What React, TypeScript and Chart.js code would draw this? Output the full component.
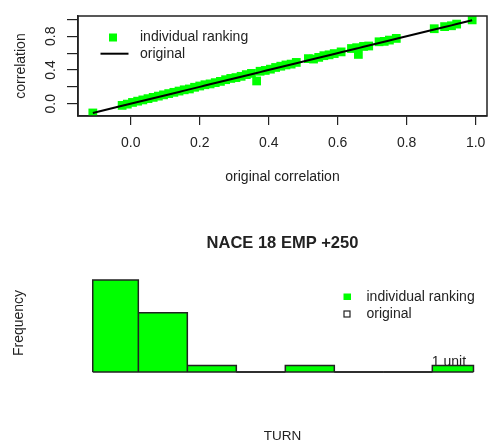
import React, { useEffect, useRef } from "react";
import { Chart, registerables } from "chart.js";

Chart.register(...registerables);

const FONT = '"Liberation Sans", Arial, Helvetica, sans-serif';
const GREEN = "#00ff00";
const INK = "#222222";

// ---- top chart data ----
const originalCorr = [
  -0.11, -0.025, -0.01, 0.005, 0.02, 0.035, 0.05, 0.065, 0.08, 0.095, 0.11, 0.125, 0.14,
  0.155, 0.17, 0.185, 0.2, 0.215, 0.23, 0.245, 0.26, 0.275, 0.29, 0.305, 0.32, 0.335, 0.35,
  0.365, 0.375, 0.39, 0.405, 0.42, 0.435, 0.45, 0.465, 0.48, 0.515, 0.53, 0.545, 0.56, 0.575,
  0.59, 0.61, 0.64, 0.655, 0.66, 0.675, 0.69, 0.72, 0.735, 0.75, 0.77, 0.88, 0.91, 0.93, 0.945,
  0.99,
];
const rankingCorr = [
  -0.11, -0.02, -0.005, 0.015, 0.03, 0.045, 0.06, 0.075, 0.09, 0.105, 0.12, 0.135, 0.15,
  0.165, 0.175, 0.195, 0.21, 0.225, 0.235, 0.25, 0.265, 0.285, 0.3, 0.31, 0.325, 0.345, 0.36,
  0.27, 0.385, 0.395, 0.41, 0.43, 0.445, 0.46, 0.47, 0.49, 0.535, 0.53, 0.55, 0.57, 0.58,
  0.595, 0.615, 0.655, 0.665, 0.585, 0.68, 0.685, 0.735, 0.74, 0.755, 0.775, 0.89, 0.915, 0.925,
  0.945, 0.995,
];
const xTicks = [0, 0.2, 0.4, 0.6, 0.8, 1.0];
const xTickLabels = ["0.0", "0.2", "0.4", "0.6", "0.8", "1.0"];
const yTicks = [0, 0.2, 0.4, 0.6, 0.8, 1.0];
const yTickLabels = ["0.0", "", "0.4", "", "0.8", ""];
const topXTitle = "original correlation";
const topYTitle = "correlation";
const topLegend = ["individual ranking", "original"];

// ---- bottom chart data ----
const histTitle = "NACE 18 EMP +250";
const binEdges = [0.07, 1, 2, 3, 4, 5, 6, 7, 7.84];
const binCounts = [14, 9, 1, 0, 1, 0, 0, 1];
const histXTitle = "TURN";
const histYTitle = "Frequency";
const histLegend = ["individual ranking", "original"];
const unitLabel = "1 unit";

const font = (size: number, weight: string = "normal") => ({ family: FONT, size, weight });

const topPlugin = {
  id: "topExtras",
  afterDraw(chart: any) {
    const { ctx, chartArea, scales } = chart;
    ctx.save();
    // box
    ctx.strokeStyle = INK;
    ctx.lineWidth = 1.5;
    ctx.strokeRect(chartArea.left, chartArea.top, chartArea.right - chartArea.left, chartArea.bottom - chartArea.top);
    ctx.fillStyle = INK;
    ctx.font = `14px ${FONT}`;
    ctx.textAlign = "center";
    ctx.textBaseline = "middle";
    // rotated y tick labels
    yTicks.forEach((v, i) => {
      const lab = yTickLabels[i];
      if (!lab) return;
      const py = scales.y.getPixelForValue(v);
      ctx.save();
      ctx.translate(51, py);
      ctx.rotate(-Math.PI / 2);
      ctx.fillText(lab, 0, 0);
      ctx.restore();
    });
    // legend
    ctx.fillStyle = GREEN;
    ctx.fillRect(109, 33.5, 8, 8);
    ctx.strokeStyle = "#000";
    ctx.lineWidth = 2;
    ctx.beginPath();
    ctx.moveTo(100.5, 53.7);
    ctx.lineTo(128.5, 53.7);
    ctx.stroke();
    ctx.fillStyle = INK;
    ctx.textAlign = "left";
    ctx.fillText(topLegend[0], 140, 37.5);
    ctx.fillText(topLegend[1], 140, 54);
    ctx.restore();
  },
};

const bottomPlugin = {
  id: "bottomExtras",
  afterDraw(chart: any) {
    const { ctx, chartArea, scales } = chart;
    ctx.save();
    // title
    ctx.fillStyle = INK;
    ctx.font = `bold 16.5px ${FONT}`;
    ctx.textAlign = "center";
    ctx.textBaseline = "middle";
    ctx.fillText(histTitle, (chartArea.left + chartArea.right) / 2, 43);
    // legend
    ctx.fillStyle = GREEN;
    ctx.fillRect(343.5, 93.5, 7.5, 6.5);
    ctx.fillStyle = "#fff";
    ctx.strokeStyle = INK;
    ctx.lineWidth = 1.2;
    ctx.fillRect(344, 111, 6, 6);
    ctx.strokeRect(344, 111, 6, 6);
    ctx.fillStyle = INK;
    ctx.font = `14px ${FONT}`;
    ctx.textAlign = "left";
    ctx.fillText(histLegend[0], 366.5, 97.3);
    ctx.fillText(histLegend[1], 366.5, 114.3);
    // unit label on last non-empty bin
    let last = binCounts.length - 1;
    while (last > 0 && binCounts[last] === 0) last--;
    const ux = scales.x.getPixelForValue(binEdges[last]);
    const uy = scales.y.getPixelForValue(binCounts[last]);
    ctx.textBaseline = "alphabetic";
    ctx.fillText(unitLabel, ux - 0.5, uy + 1);
    ctx.restore();
  },
};

function topConfig(): any {
  return {
    type: "scatter",
    data: {
      datasets: [
        {
          label: topLegend[0],
          data: originalCorr.map((x, i) => ({ x, y: rankingCorr[i] })),
          pointStyle: "rect",
          pointRadius: 6.2,
          pointBorderWidth: 0,
          backgroundColor: GREEN,
          borderColor: GREEN,
          showLine: false,
          order: 2,
        },
        {
          label: topLegend[1],
          type: "line",
          data: originalCorr.map((x) => ({ x, y: x })),
          borderColor: "#000",
          borderWidth: 2,
          pointRadius: 0,
          fill: false,
          tension: 0,
          order: 1,
        },
      ],
    },
    options: {
      animation: false,
      responsive: false,
      devicePixelRatio: 1,
      layout: { autoPadding: false, padding: { top: 16, right: 1, left: 0, bottom: 0 } },
      plugins: { legend: { display: false }, tooltip: { enabled: false }, title: { display: false } },
      scales: {
        x: {
          type: "linear",
          min: -0.153,
          max: 1.033,
          afterBuildTicks: (s: any) => {
            s.ticks = xTicks.map((v) => ({ value: v }));
          },
          afterFit: (s: any) => {
            s.height = 84;
            s.paddingLeft = 0;
            s.paddingRight = 0;
          },
          ticks: {
            callback: (v: number) => xTickLabels[xTicks.indexOf(v)] ?? "",
            font: font(14),
            color: INK,
            padding: 10,
            maxRotation: 0,
            autoSkip: false,
          },
          grid: { drawOnChartArea: false, drawTicks: true, tickLength: 9, color: INK, lineWidth: 1.2 },
          border: { display: true, color: INK, width: 1.5 },
          title: { display: true, text: topXTitle, font: font(14), color: INK, padding: { top: 0, bottom: 14.6 } },
        },
        y: {
          type: "linear",
          min: -0.146,
          max: 1.041,
          afterBuildTicks: (s: any) => {
            s.ticks = yTicks.map((v) => ({ value: v }));
          },
          afterFit: (s: any) => {
            s.width = 78;
            s.paddingTop = 0;
            s.paddingBottom = 0;
          },
          ticks: { display: false },
          grid: { drawOnChartArea: false, drawTicks: true, tickLength: 11, color: INK, lineWidth: 1.2 },
          border: { display: true, color: INK, width: 1.5 },
          title: { display: true, text: topYTitle, font: font(14), color: INK, padding: { top: 12.6, bottom: 0 } },
        },
      },
    },
    plugins: [topPlugin],
  };
}

function bottomConfig(): any {
  const datasets: any[] = [
    {
      label: "baseline",
      type: "line",
      data: [
        { x: binEdges[0], y: 0 },
        { x: binEdges[binEdges.length - 1], y: 0 },
      ],
      borderColor: INK,
      borderWidth: 1.5,
      pointRadius: 0,
      fill: false,
      order: 0,
    },
  ];
  binCounts.forEach((c, i) => {
    datasets.push({
      label: histLegend[0],
      type: "line",
      data: [
        { x: binEdges[i], y: 0 },
        { x: binEdges[i], y: c },
        { x: binEdges[i + 1], y: c },
        { x: binEdges[i + 1], y: 0 },
      ],
      borderColor: INK,
      borderWidth: 1.5,
      borderJoinStyle: "miter",
      backgroundColor: GREEN,
      fill: "origin",
      pointRadius: 0,
      tension: 0,
      order: 1,
    });
  });
  return {
    type: "scatter",
    data: { datasets },
    options: {
      animation: false,
      responsive: false,
      devicePixelRatio: 1,
      layout: { autoPadding: false, padding: { top: 70, right: 1, left: 0, bottom: 0 } },
      plugins: { legend: { display: false }, tooltip: { enabled: false }, title: { display: false } },
      scales: {
        x: {
          type: "linear",
          min: -0.231,
          max: 8.116,
          afterFit: (s: any) => {
            s.height = 65;
            s.paddingLeft = 0;
            s.paddingRight = 0;
          },
          ticks: { display: false },
          grid: { display: false },
          border: { display: false },
          title: { display: true, text: histXTitle, font: font(13.5), color: INK, padding: { top: 0, bottom: -3 } },
        },
        y: {
          type: "linear",
          min: -0.609,
          max: 15.52,
          afterFit: (s: any) => {
            s.width = 78;
          },
          ticks: { display: false },
          grid: { display: false },
          border: { display: false },
          title: { display: true, text: histYTitle, font: font(14), color: INK, padding: { top: 11, bottom: 0 } },
        },
      },
    },
    plugins: [bottomPlugin],
  };
}

export default function App() {
  const topRef = useRef<HTMLCanvasElement>(null);
  const botRef = useRef<HTMLCanvasElement>(null);
  useEffect(() => {
    document.body.style.margin = "0";
    const c1 = new Chart(topRef.current as HTMLCanvasElement, topConfig());
    const c2 = new Chart(botRef.current as HTMLCanvasElement, bottomConfig());
    return () => {
      c1.destroy();
      c2.destroy();
    };
  }, []);
  return (
    <div style={{ position: "relative", width: 488, height: 441, background: "#fff" }}>
      <canvas ref={topRef} width={488} height={200} style={{ display: "block", width: 488, height: 200 }} />
      <canvas ref={botRef} width={488} height={241} style={{ display: "block", width: 488, height: 241 }} />
    </div>
  );
}
